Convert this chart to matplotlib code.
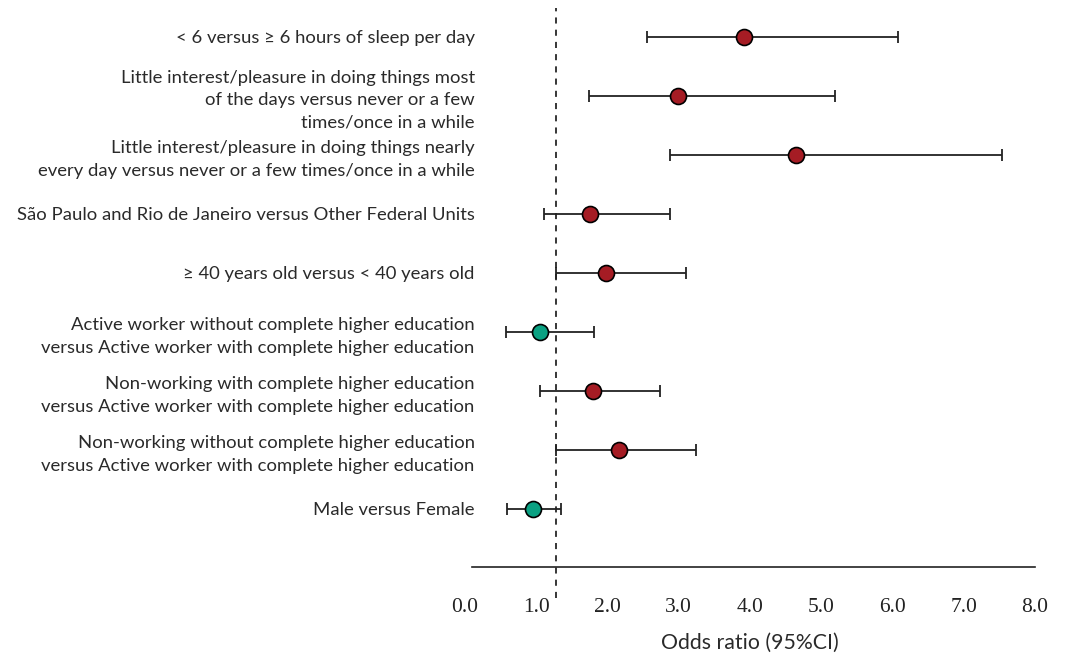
import matplotlib
matplotlib.use("Agg")
import matplotlib.pyplot as plt
import numpy as np

labels = [
    "< 6 versus \u2265 6 hours of sleep per day",
    "Little interest/pleasure in doing things most\nof the days versus never or a few\ntimes/once in a while",
    "Little interest/pleasure in doing things nearly\nevery day versus never or a few times/once in a while",
    "S\u00e3o Paulo and Rio de Janeiro versus Other Federal Units",
    "\u2265 40 years old versus < 40 years old",
    "Active worker without complete higher education\nversus Active worker with complete higher education",
    "Non-working with complete higher education\nversus Active worker with complete higher education",
    "Non-working without complete higher education\nversus Active worker with complete higher education",
    "Male versus Female",
]
odds = [3.92, 2.99, 4.65, 1.75, 1.98, 1.05, 1.80, 2.16, 0.95]
ci_low = [2.55, 1.74, 2.88, 1.11, 1.28, 0.58, 1.05, 1.28, 0.59]
ci_high = [6.08, 5.19, 7.54, 2.88, 3.10, 1.81, 2.74, 3.24, 1.35]
significant = [True, True, True, True, True, False, True, True, False]
ref_line = 1.28
xticks = [0, 1, 2, 3, 4, 5, 6, 7, 8]

RED = "#a51c24"
TEAL = "#0aa182"
sans = ["Lato", "DejaVu Sans"]
serif = ["Liberation Serif", "DejaVu Serif"]

fig = plt.figure(figsize=(10.69, 6.55), dpi=100)
# axes from x=465..1035 px, y=8..598 px
ax = fig.add_axes([465 / 1069, 1 - 598 / 655, 570 / 1069, 590 / 655])

y = np.arange(len(labels))
odds = np.array(odds)
err = [odds - np.array(ci_low), np.array(ci_high) - odds]

ax.axvline(ref_line, color="black", linestyle=(0, (4, 4)), linewidth=1.1, zorder=1)
ax.errorbar(odds, y, xerr=err, fmt="none", ecolor="#222222", elinewidth=1.3,
            capsize=4.5, capthick=1.3, zorder=2)
for xi, yi, sig in zip(odds, y, significant):
    ax.plot(xi, yi, "o", markersize=11.5, markerfacecolor=RED if sig else TEAL,
            markeredgecolor="black", markeredgewidth=1.2, zorder=3)

ax.set_xlim(0, 8)
ax.set_ylim(len(labels) + 0.51, -0.49)

for s in ["top", "right", "left"]:
    ax.spines[s].set_visible(False)
ax.spines["bottom"].set_position(("axes", (598 - 567) / 590))
ax.spines["bottom"].set_bounds(0.1, 8)
ax.spines["bottom"].set_linewidth(1.2)
ax.spines["bottom"].set_color("#222222")

ax.set_xticks(xticks)
ax.set_xticklabels(["%.1f" % t for t in xticks], family=serif, fontsize=15.5, color="#222222")
ax.tick_params(axis="x", length=0, pad=22)

ax.set_yticks(y)
ax.set_yticklabels(labels, family=sans, fontsize=13.3, color="#2a2a2a", linespacing=1.47)
ax.tick_params(axis="y", length=0, pad=-7)

ax.set_xlabel("Odds ratio (95%CI)", family=sans, fontsize=15.3, color="#2a2a2a", labelpad=12)

fig.savefig("out.png", dpi=100)
